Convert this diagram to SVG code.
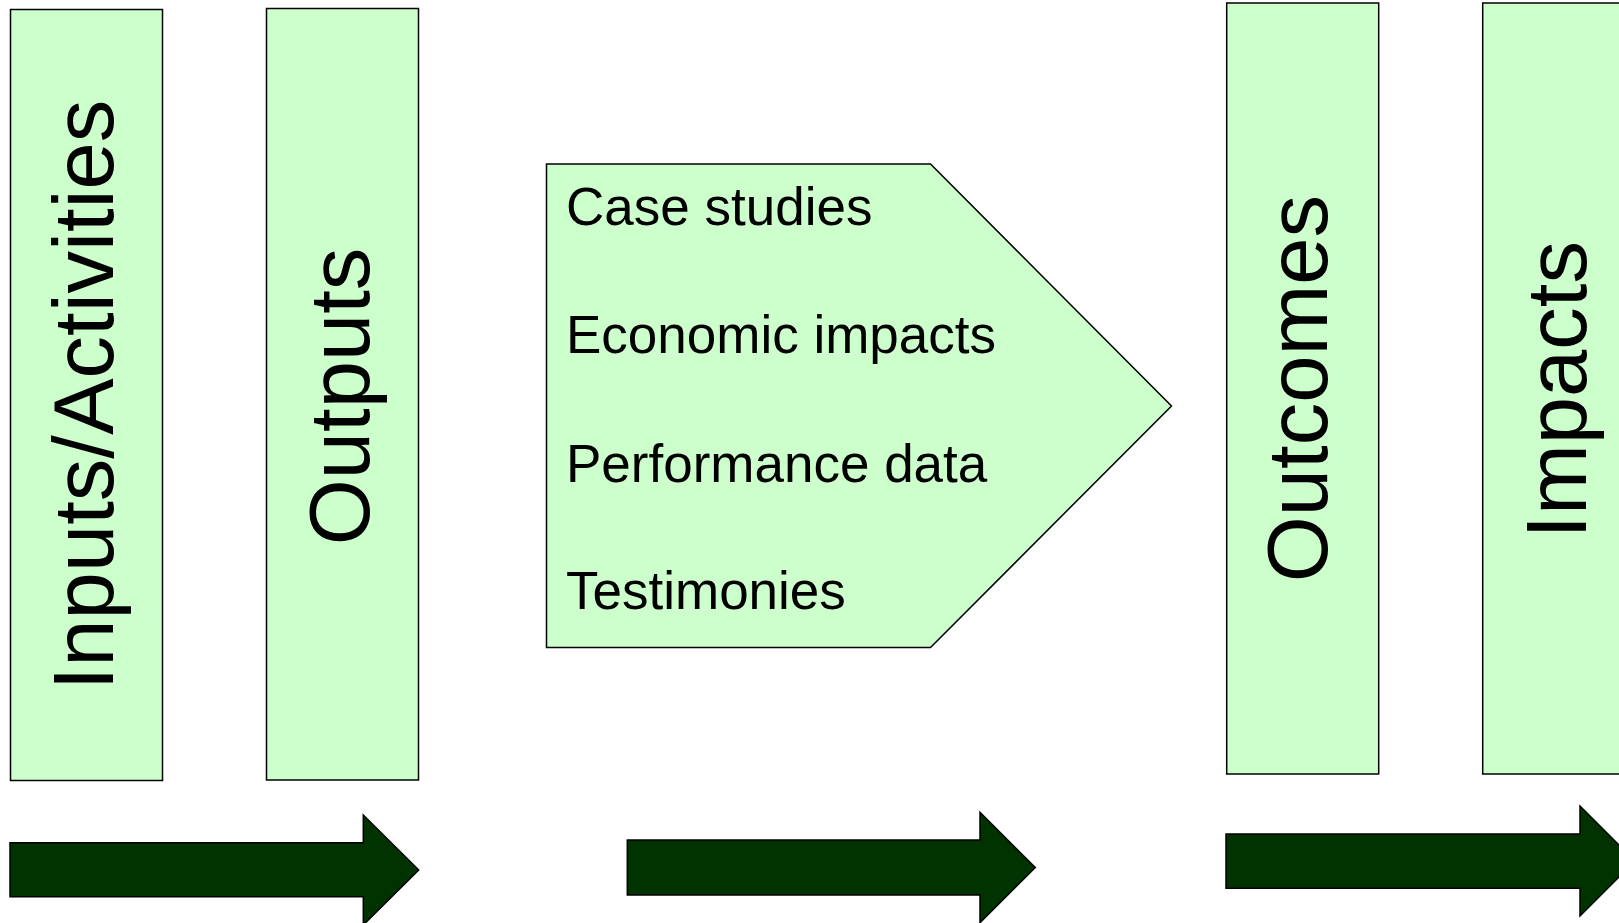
<svg xmlns="http://www.w3.org/2000/svg" width="1619" height="923" viewBox="0 0 1619 923">
  <style>
    .box { fill: #ccffcc; stroke: #000000; stroke-width: 1.5; }
    .arrow { fill: #003300; stroke: #000000; stroke-width: 1.5; stroke-linejoin: miter; }
    .vlabel { font-family: "Liberation Sans", Arial, sans-serif; font-size: 85px; fill: #000000; text-anchor: middle; }
    .item { font-family: "Liberation Sans", Arial, sans-serif; font-size: 53px; fill: #000000; }
  </style>
  <rect width="1619" height="923" fill="#ffffff"/>

  <!-- stage columns -->
  <g id="inputs-activities">
    <rect class="box" x="10.5" y="9.5" width="152" height="771"/>
    <text class="vlabel" transform="translate(112.7 395) rotate(-90)">Inputs/Activities</text>
  </g>
  <g id="outputs">
    <rect class="box" x="266.5" y="8.5" width="152" height="771.5"/>
    <text class="vlabel" transform="translate(369.3 396.5) rotate(-90)">Outputs</text>
  </g>

  <!-- evidence pentagon -->
  <g id="evidence">
    <polygon class="box" points="546.5,164 930.5,164 1171.5,406 930.5,647.5 546.5,647.5"/>
    <text class="item" x="566" y="225">Case studies</text>
    <text class="item" x="566" y="353">Economic impacts</text>
    <text class="item" x="566" y="481.5">Performance data</text>
    <text class="item" x="566" y="608.5">Testimonies</text>
  </g>

  <g id="outcomes">
    <rect class="box" x="1226.7" y="3" width="152" height="771"/>
    <text class="vlabel" transform="translate(1326.7 388.6) rotate(-90)">Outcomes</text>
  </g>
  <g id="impacts">
    <rect class="box" x="1482.7" y="3" width="152" height="771"/>
    <text class="vlabel" transform="translate(1586 389.8) rotate(-90)">Impacts</text>
  </g>

  <!-- flow arrows along the bottom -->
  <g id="connectors">
    <polygon class="arrow" points="10,842.7 363.3,842.7 363.3,815 418.7,870 363.3,925 363.3,896.7 10,896.7"/>
    <polygon class="arrow" points="627.3,840 980,840 980,812.3 1035.3,867.5 980,922.7 980,895 627.3,895"/>
    <polygon class="arrow" points="1226,834 1580,834 1580,806 1635,861 1580,916 1580,888.3 1226,888.3"/>
  </g>
</svg>
